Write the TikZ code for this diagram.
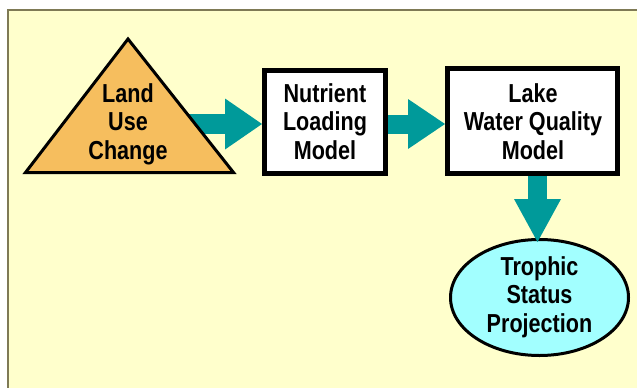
\documentclass[tikz,border=0pt]{standalone}
\usepackage{fontspec}
\newfontfamily\labfont{Liberation Sans}[FakeStretch=0.83]
\usetikzlibrary{shapes.geometric,arrows.meta,backgrounds}
\definecolor{bgyellow}{HTML}{FFFFCC}
\definecolor{frameolive}{HTML}{7F7A55}
\definecolor{tealarrow}{HTML}{009A9A}
\definecolor{triorange}{HTML}{F6BE5E}
\definecolor{ellcyan}{HTML}{A2FFFF}
\tikzset{
  lab/.style={font=\labfont\bfseries\fontsize{26}{28.5}\selectfont, align=center, inner sep=0pt, text=black},
  modelbox/.style={draw=black, fill=white, line width=5pt, rectangle, inner sep=0pt},
  flowarrow/.style={draw=tealarrow, line width=#1},
}
\begin{document}
\begin{tikzpicture}[x=1pt,y=-1pt]
\useasboundingbox (0,0) rectangle (637,388);

% triangle
\coordinate (ta) at (128,39);
\coordinate (tl) at (25.5,172.5);
\coordinate (tr) at (233.5,172.5);
\coordinate (tstart) at (180,124);
\filldraw[fill=triorange, draw=black, line width=3pt, line join=miter] (ta) -- (tr) -- (tl) -- cycle;
\node[lab] (land) at (128,124) {Land\\Use\\Change};

% boxes
\node[modelbox, minimum width=121pt, minimum height=103pt] (nut) at (325,122) {};
\node[lab] (nuttext) at (325,121.5) {Nutrient\\Loading\\Model};
\node[modelbox, minimum width=170pt, minimum height=105pt] (lake) at (532.5,121) {};
\node[lab] (laketext) at (533,121.5) {Lake\\Water Quality\\Model};

% ellipse
\node[ellipse, draw=black, fill=ellcyan, line width=3pt, minimum width=178pt, minimum height=116pt, inner sep=0pt] (ell) at (539.5,297.5) {};
\node[lab] (elltext) at (539.5,297) {Trophic\\Status\\Projection};

% background, frame and the first arrow (behind the triangle)
\begin{scope}[on background layer]
\fill[white] (0,0) rectangle (637,388);
\fill[bgyellow] (8,10) rectangle (637,388);
\draw[frameolive, line width=1.5pt] (8,388) -- (8,10) -- (637,10);
\draw[flowarrow=20pt, -{Triangle[length=37pt,width=51pt,line width=0pt,fill=tealarrow,color=tealarrow]}] (tstart) -- (tstart -| nut.west);
\end{scope}

% other arrows
\draw[flowarrow=19pt, -{Triangle[length=37pt,width=50pt,line width=0pt,fill=tealarrow,color=tealarrow]}] (nut.east |- 0,124) -- (lake.west |- 0,124);
\draw[flowarrow=19pt, -{Triangle[length=43pt,width=47pt,line width=0pt,fill=tealarrow,color=tealarrow]}] (lake.south -| 537.5,0) -- (537.5,242);
\end{tikzpicture}
\end{document}
